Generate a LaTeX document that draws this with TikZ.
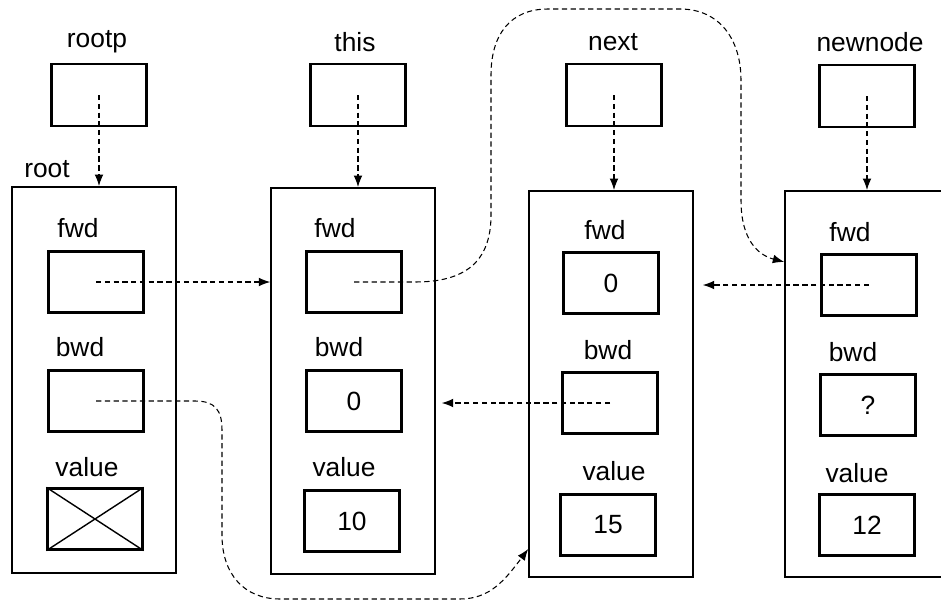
\documentclass[tikz,border=0pt]{standalone}
\usepackage{fontspec}
\setmainfont{Liberation Sans}
\usetikzlibrary{arrows.meta}

\begin{document}
\begin{tikzpicture}[
    x=0.02cm, y=-0.02cm,
    every node/.style={font=\fontsize{15}{18}\selectfont},
    ptrbox/.style={draw, line width=1.3pt, minimum width=1.9cm, minimum height=1.24cm, inner sep=0pt},
    record/.style={draw, line width=1.2pt, minimum width=3.27cm, minimum height=7.72cm, inner sep=0pt},
    field/.style={draw, line width=1.3pt, minimum width=1.9cm, minimum height=1.22cm, inner sep=0pt},
    link/.style={line width=0.6pt, dash pattern=on 3pt off 2pt, -{Latex[length=6.5pt,width=5pt]}}
]
\useasboundingbox (0,0) rectangle (941,602);
\clip (0,0) rectangle (941,602);

% Pointers
\node (lptr1) at (97,42) {rootp};
\node (lptr2) at (355,42) {this};
\node (lptr3) at (613,42) {next};
\node (lptr4) at (870,42) {newnode};
\node[ptrbox] (ptr1) at (99,95) {};
\node[ptrbox] (ptr2) at (358,95) {};
\node[ptrbox] (ptr3) at (614,95) {};
\node[ptrbox] (ptr4) at (867,96) {};

% Records
\node (lrec1) at (47,169) {root};
\node[record] (rec1) at (94,380) {};
\node[record] (rec2) at (353,381) {};
\node[record] (rec3) at (611,384) {};
\node[record] (rec4) at (867,384) {};

% root
\node (lfwd1) at (78,228) {fwd};
\node[field] (fwd1) at (96,282) {};
\node (lbwd1) at (80,347) {bwd};
\node[field] (bwd1) at (96,401) {};
\node (lval1) at (87,467) {value};
\node[field] (val1) at (95,519) {};
\draw[line width=0.8pt] (val1.north west) -- (val1.south east)
    (val1.north east) -- (val1.south west);

% this
\node (lfwd2) at (335,228) {fwd};
\node[field] (fwd2) at (354,282) {};
\node (lbwd2) at (339,347) {bwd};
\node[field] (bwd2) at (354,401) {0};
\node (lval2) at (344,467) {value};
\node[field] (val2) at (352,521) {10};

% next
\node (lfwd3) at (605,230) {fwd};
\node[field] (fwd3) at (611,283) {0};
\node (lbwd3) at (608,350) {bwd};
\node[field] (bwd3) at (610,403) {};
\node (lval3) at (614,471) {value};
\node[field] (val3) at (608,525) {15};

% newnode
\node (lfwd4) at (850,232) {fwd};
\node[field] (fwd4) at (869,285) {};
\node (lbwd4) at (853,352) {bwd};
\node[field] (bwd4) at (868,405) {?};
\node (lval4) at (857,473) {value};
\node[field] (val4) at (867,525) {12};

% Links
\draw[link] (ptr1.center) -- (ptr1.center |- rec1.north);
\draw[link] (ptr2.center) -- (ptr2.center |- rec2.north);
\draw[link] (ptr3.center) -- (ptr3.center |- rec3.north);
\draw[link] (ptr4.center) -- (ptr4.center |- rec4.north);
\draw[link] (fwd1.center) -- (fwd1.center -| rec2.west);
\draw[link, shorten >=0.18cm] (fwd4.center) -- (fwd4.center -| rec3.east);
\draw[link, shorten >=0.12cm] (bwd3.center) -- (bwd3.center -| rec2.east);
\draw[link] (bwd1.center) -- (195,401) .. controls (215,401) and (222,410) .. (222,430)
    -- (222,535) .. controls (222,575) and (245,599) .. (280,599) -- (460,599)
    .. controls (490,599) and (505,580) .. ([yshift=0.58cm]rec3.south west);
\draw[link] (fwd2.center) -- (415,282) .. controls (465,282) and (491,262) .. (491,215)
    -- (491,75) .. controls (491,35) and (510,9) .. (548,9) -- (680,9)
    .. controls (720,9) and (741,40) .. (741,80) -- (741,200)
    .. controls (741,240) and (758,255) .. ([yshift=-1.44cm]rec4.north west);

\end{tikzpicture}
\end{document}
